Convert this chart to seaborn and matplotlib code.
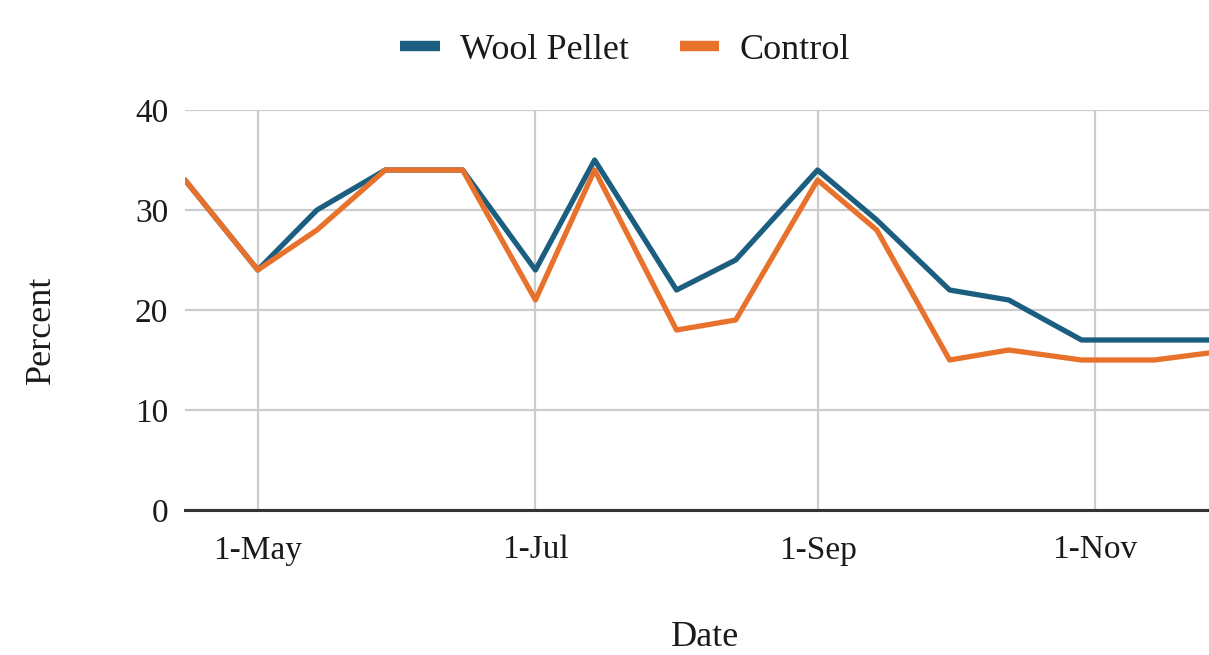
import matplotlib
matplotlib.use("Agg")
import matplotlib.pyplot as plt
from matplotlib.lines import Line2D
import seaborn as sns
import pandas as pd

dates = ["2023-04-15", "2023-05-01", "2023-05-14", "2023-05-29", "2023-06-15",
         "2023-07-01", "2023-07-14", "2023-08-01", "2023-08-14", "2023-09-01",
         "2023-09-14", "2023-09-30", "2023-10-13", "2023-10-29", "2023-11-14",
         "2023-12-01"]
wool_pellet = [33, 24, 30, 34, 34, 24, 35, 22, 25, 34, 29, 22, 21, 17, 17, 17]
control = [33, 24, 28, 34, 34, 21, 34, 18, 19, 33, 28, 15, 16, 15, 15, 16]
series_names = ["Wool Pellet", "Control"]
colors = ["#1B5E80", "#E8722C"]
tick_dates = ["2023-05-01", "2023-07-01", "2023-09-01", "2023-11-01"]
tick_labels = ["1-May", "1-Jul", "1-Sep", "1-Nov"]
y_ticks = [0, 10, 20, 30, 40]

df = pd.DataFrame({
    "Date": pd.to_datetime(dates * 2),
    "Percent": wool_pellet + control,
    "Series": [series_names[0]] * len(dates) + [series_names[1]] * len(dates),
})

sns.set_theme(style="white")
plt.rcParams["font.family"] = ["Liberation Serif", "DejaVu Serif"]

fig = plt.figure(figsize=(12.09, 6.55), dpi=100)
W, H = 1209, 655
AW, AH = 1209 - 185, 400
ax = fig.add_axes([185 / W, 1 - 510 / H, AW / W, AH / H])

sns.lineplot(data=df, x="Date", y="Percent", hue="Series",
             palette=dict(zip(series_names, colors)), linewidth=3.8,
             ax=ax, legend=False, zorder=3)

ax.set_xlim(pd.Timestamp("2023-04-15"), pd.Timestamp("2023-11-26"))
ax.set_ylim(0, 40)
ax.set_xticks(pd.to_datetime(tick_dates))
ax.set_xticklabels(tick_labels)
ax.set_yticks(y_ticks)

ax.grid(True, color="#cccccc", linewidth=1.6, zorder=0)
ax.set_axisbelow(True)
for s in ["left", "right", "top"]:
    ax.spines[s].set_visible(False)
ax.spines["bottom"].set_color("#333333")
ax.spines["bottom"].set_linewidth(2.2)
ax.spines["bottom"].set_zorder(4)

ax.tick_params(axis="both", length=0, labelsize=24, colors="#1a1a1a")
ax.tick_params(axis="x", pad=18)
ax.tick_params(axis="y", pad=12)

ax.set_xlabel("Date", fontsize=26, color="#1a1a1a")
ax.xaxis.set_label_coords((705 - 185) / AW, -(621 - 510) / AH)
ax.set_ylabel("Percent", fontsize=26, color="#1a1a1a")
ax.yaxis.set_label_coords(-(185 - 58) / AW, 0.45)

handles = [Line2D([0], [0], color=c, linewidth=7.5, solid_capstyle="butt")
           for c in colors]
fig.legend(handles, series_names, loc="center", bbox_to_anchor=(625 / W, 1 - 50 / H),
           ncol=2, frameon=False, fontsize=26, handlelength=1.1,
           handletextpad=0.55, columnspacing=1.4, labelcolor="#1a1a1a")

fig.savefig("out.png", dpi=100)
